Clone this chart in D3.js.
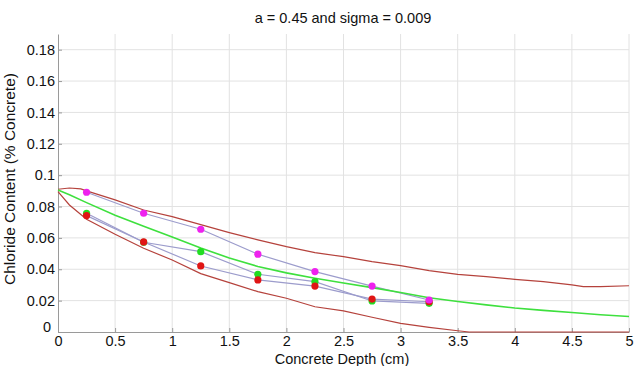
<!DOCTYPE html>
<html>
<head>
<meta charset="utf-8">
<script src="https://cdn.jsdelivr.net/npm/d3@7"></script>
<style>
  body { margin: 0; background: #fff; }
  text { font-family: Arial, "Liberation Sans", sans-serif; fill: #111; }
</style>
</head>
<body>
<svg id="chart"></svg>
<script>
// measured depths (cm)
var depths = [0.25, 0.75, 1.25, 1.75, 2.25, 2.75, 3.25];
var magentaVals = [0.0891, 0.0757, 0.0655, 0.0496, 0.0385, 0.0293, 0.0204];
var greenVals = [0.0757, 0.0572, 0.0512, 0.0368, 0.0321, 0.0198, 0.0183];
var redVals = [0.0742, 0.0574, 0.0421, 0.0332, 0.0293, 0.0210, 0.0193];

// fitted curve
var fitX = [0, 0.1, 0.25, 0.5, 0.75, 1, 1.25, 1.5, 1.75, 2, 2.25, 2.5, 2.75, 3, 3.25, 3.5, 3.75, 4, 4.25, 4.5, 4.75, 5];
var fitVals = [0.0905, 0.0875, 0.0825, 0.0745, 0.0675, 0.0605, 0.0535, 0.0472, 0.0418, 0.0377, 0.0343, 0.0312, 0.0283, 0.0252, 0.0218, 0.0194, 0.0173, 0.0153, 0.0138, 0.0124, 0.0110, 0.0099];

// bounds
var upperX = [0, 0.1, 0.2, 0.25, 0.5, 0.75, 1, 1.25, 1.5, 1.75, 2, 2.25, 2.5, 2.75, 3, 3.25, 3.5, 3.75, 4, 4.25, 4.5, 4.6, 4.75, 5];
var upperVals = [0.0910, 0.0918, 0.0912, 0.0900, 0.0842, 0.0778, 0.0736, 0.0685, 0.0634, 0.0587, 0.0544, 0.0506, 0.0480, 0.0449, 0.0423, 0.0391, 0.0368, 0.0353, 0.0336, 0.0321, 0.0300, 0.0289, 0.0289, 0.0295];
var lowerX = [0, 0.1, 0.25, 0.5, 0.75, 1, 1.25, 1.5, 1.75, 2, 2.25, 2.5, 2.75, 3, 3.25, 3.5, 3.6, 5];
var lowerVals = [0.0895, 0.0810, 0.0719, 0.0623, 0.0534, 0.0459, 0.0372, 0.0315, 0.0257, 0.0215, 0.0161, 0.0135, 0.0094, 0.0055, 0.0030, 0.0008, 0, 0];

var xTicks = [0, 0.5, 1, 1.5, 2, 2.5, 3, 3.5, 4, 4.5, 5];
var yTicks = [0, 0.02, 0.04, 0.06, 0.08, 0.1, 0.12, 0.14, 0.16, 0.18];

var width = 634, height = 366;
var svg = d3.select("#chart").attr("width", width).attr("height", height);

var x = d3.scaleLinear().domain([0, 5]).range([58, 629]);
var y = d3.scaleLinear().domain([0, 0.19]).range([332, 34]);

// grid
svg.append("g").selectAll("line").data(xTicks.slice(1)).enter().append("line")
  .attr("x1", d => x(d)).attr("x2", d => x(d))
  .attr("y1", y(0)).attr("y2", y(0.19))
  .attr("stroke", "#e2e2e2").attr("stroke-width", 1);
svg.append("g").selectAll("line").data(yTicks.slice(1)).enter().append("line")
  .attr("x1", x(0)).attr("x2", x(5))
  .attr("y1", d => y(d)).attr("y2", d => y(d))
  .attr("stroke", "#e2e2e2").attr("stroke-width", 1);

// axes
var xAxis = svg.append("g").attr("transform", "translate(0," + y(0) + ")")
  .call(d3.axisBottom(x).tickValues(xTicks).tickSizeInner(-4).tickSizeOuter(0)
    .tickFormat(d3.format("")));
var yAxis = svg.append("g").attr("transform", "translate(" + x(0) + ",0)")
  .call(d3.axisLeft(y).tickValues(yTicks).tickSizeInner(-4).tickSizeOuter(0)
    .tickFormat(d => d === 0 ? "0" : d3.format("")(+d.toFixed(2))));
[xAxis, yAxis].forEach(function(a) {
  a.select(".domain").attr("stroke", "#9a9a9a");
  a.selectAll(".tick line").attr("stroke", "#9a9a9a");
  a.selectAll("text").style("font-size", "14.5px").attr("fill", "#111");
});
xAxis.selectAll("text").attr("dy", null).attr("y", 14);
yAxis.selectAll("text").attr("x", -3);
yAxis.selectAll(".tick").filter(d => d === 0).select("text").attr("dy", "-0.05em").attr("x", -7);

var line = d3.line().x(d => x(d[0])).y(d => y(d[1]));

// bounds
svg.append("path").datum(d3.zip(upperX, upperVals))
  .attr("d", line).attr("fill", "none").attr("stroke", "#b5423c").attr("stroke-width", 1.2);
svg.append("path").datum(d3.zip(lowerX, lowerVals))
  .attr("d", line).attr("fill", "none").attr("stroke", "#b5423c").attr("stroke-width", 1.2);

// connecting lines for measured sets
[greenVals, redVals, magentaVals].forEach(function(vals) {
  svg.append("path").datum(d3.zip(depths, vals))
    .attr("d", line).attr("fill", "none").attr("stroke", "#9c9ccc").attr("stroke-width", 1.2);
});

// fit
svg.append("path").datum(d3.zip(fitX, fitVals))
  .attr("d", line).attr("fill", "none").attr("stroke", "#3ee03e").attr("stroke-width", 1.6);

// points
var sets = [
  { vals: greenVals, color: "#22dd22" },
  { vals: redVals, color: "#e01515" },
  { vals: magentaVals, color: "#ee22ee" }
];
sets.forEach(function(s) {
  svg.append("g").selectAll("circle").data(d3.zip(depths, s.vals)).enter().append("circle")
    .attr("cx", d => x(d[0])).attr("cy", d => y(d[1]))
    .attr("r", 3.6).attr("fill", s.color);
});

// labels
svg.append("text").attr("x", 343).attr("y", 23).attr("text-anchor", "middle")
  .style("font-size", "14.5px").text("a = 0.45 and sigma = 0.009");
svg.append("text").attr("x", 342).attr("y", 364).attr("text-anchor", "middle")
  .style("font-size", "14.5px").text("Concrete Depth (cm)");
svg.append("text").attr("transform", "translate(15,179) rotate(-90)").attr("text-anchor", "middle")
  .style("font-size", "15.5px").text("Chloride Content (% Concrete)");
</script>
</body>
</html>
